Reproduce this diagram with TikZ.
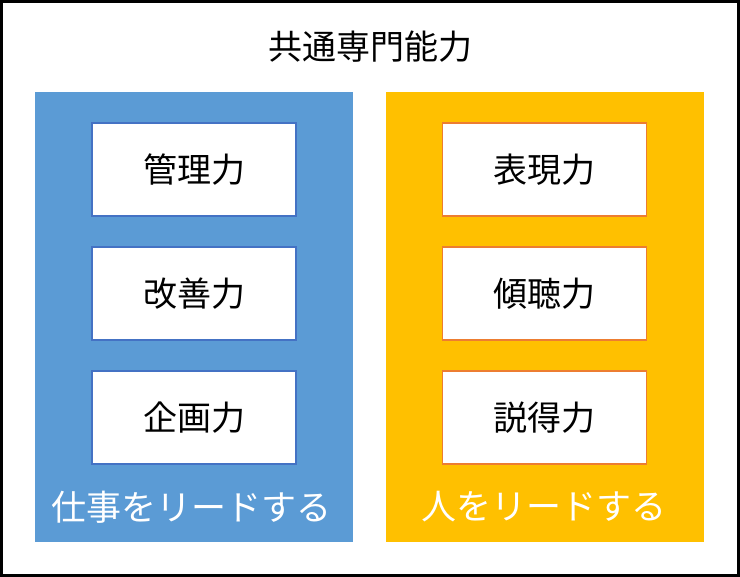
\documentclass[tikz,border=0pt]{standalone}
\usepackage{fontspec}
\newfontfamily\jpfont{Noto Sans CJK JP}
\usetikzlibrary{positioning}
\definecolor{workblue}{HTML}{5B9BD5}
\definecolor{workedge}{HTML}{4472C4}
\definecolor{peoplegold}{HTML}{FFC000}
\definecolor{peopleedge}{HTML}{ED7D31}
\tikzset{panel/.style={rectangle, minimum width=318pt, minimum height=450pt, inner sep=0pt},
  skill/.style={rectangle, fill=white, line width=1.2pt, minimum width=204pt, minimum height=93pt, inner sep=0pt, font=\jpfont\fontsize{34}{40}\selectfont},
  caption/.style={inner sep=0pt, text=white, font=\jpfont\fontsize{35}{40}\selectfont}}

\begin{document}
\begin{tikzpicture}[x=1pt, y=-1pt]
\useasboundingbox (0,0) rectangle (740,577);
\draw[line width=2.5pt] (1.5,1.5) rectangle (738.5,575.5);
\node (title) at (370,47) [inner sep=0pt, font=\jpfont\fontsize{34}{40}\selectfont] {共通専門能力};
\node (work) at (194,317) [panel, fill=workblue] {};
\node (people) at (545,317) [panel, fill=peoplegold] {};
\node (kanri) at (194,169.5) [skill, draw=workedge] {管理力};
\node (kaizen) at (194,293.5) [skill, draw=workedge] {改善力};
\node (kikaku) at (194,417.5) [skill, draw=workedge] {企画力};
\node (hyogen) at (544.5,169.5) [skill, draw=peopleedge] {表現力};
\node (keicho) at (544.5,293.5) [skill, draw=peopleedge] {傾聴力};
\node (settoku) at (544.5,417.5) [skill, draw=peopleedge] {説得力};
\node (worklead) at (192,507) [caption] {仕事をリードする};
\node (peoplelead) at (544,507) [caption] {人をリードする};
\end{tikzpicture}
\end{document}
